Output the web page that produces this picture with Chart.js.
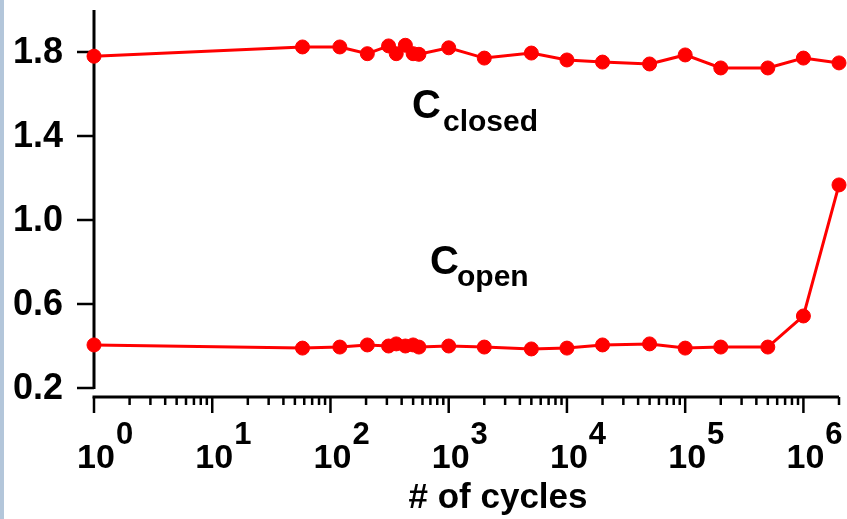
<!DOCTYPE html>
<html>
<head>
<meta charset="utf-8">
<script src="https://cdn.jsdelivr.net/npm/chart.js@4.4.0/dist/chart.umd.min.js"></script>
<style>
  html, body { margin: 0; padding: 0; background: #fff; }
  #wrap { position: relative; width: 847px; height: 519px; }
</style>
</head>
<body>
<div id="wrap"><canvas id="cyclesChart"></canvas></div>
<script>
// data
const cycles = [1, 58, 120, 205, 310, 360, 430, 500, 560, 1000, 2000, 5000, 10000, 20000, 50000, 100000, 200000, 500000, 1000000, 2000000];
const cClosed = [1.78, 1.824, 1.824, 1.792, 1.829, 1.792, 1.832, 1.792, 1.789, 1.82, 1.771, 1.795, 1.762, 1.752, 1.743, 1.786, 1.724, 1.724, 1.771, 1.748];
const cOpen = [0.405, 0.39, 0.395, 0.405, 0.40, 0.41, 0.40, 0.405, 0.395, 0.40, 0.395, 0.386, 0.39, 0.405, 0.41, 0.39, 0.395, 0.395, 0.543, 1.167];

const yTicks = [0.2, 0.6, 1.0, 1.4, 1.8];
const yTickLabels = ['0.2', '0.6', '1.0', '1.4', '1.8'];
const xDecades = [0, 1, 2, 3, 4, 5, 6];
const xMinorMults = [2, 3, 4, 5, 6, 7, 8, 9];
const xTickBase = '10';
const xTitle = '# of cycles';
const labelClosed = ['C', 'closed'];
const labelOpen = ['C', 'open'];

const FONT = '"Liberation Sans", Arial, sans-serif';

function toPoints(xs, ys) {
  return xs.map((x, i) => ({ x: x, y: ys[i] }));
}

const axesPlugin = {
  id: 'axesPlugin',
  beforeDraw(chart) {
    const ctx = chart.ctx;
    ctx.save();
    ctx.fillStyle = '#ffffff';
    ctx.fillRect(0, 0, chart.width, chart.height);
    ctx.fillStyle = '#b3c6da';
    ctx.fillRect(0, 0, 4, chart.height);
    ctx.restore();
  },
  beforeDatasetsDraw(chart) {
    const ctx = chart.ctx;
    const xs = chart.scales.x;
    const ys = chart.scales.y;
    const area = chart.chartArea;
    ctx.save();
    ctx.strokeStyle = '#000';
    ctx.fillStyle = '#000';
    ctx.lineCap = 'butt';

    // y axis
    ctx.lineWidth = 3;
    ctx.beginPath();
    ctx.moveTo(area.left, area.top);
    ctx.lineTo(area.left, ys.getPixelForValue(0.2) + 1);
    ctx.stroke();
    ctx.lineWidth = 2.5;
    ctx.font = 'bold 36px ' + FONT;
    ctx.textAlign = 'right';
    ctx.textBaseline = 'middle';
    yTicks.forEach((v, i) => {
      const py = ys.getPixelForValue(v);
      ctx.beginPath();
      ctx.moveTo(area.left - 17, py);
      ctx.lineTo(area.left, py);
      ctx.stroke();
      ctx.fillText(yTickLabels[i], area.left - 31, py + 1);
    });

    // x axis, set a little below the plot
    const axisY = area.bottom + 9;
    ctx.lineWidth = 3;
    ctx.beginPath();
    ctx.moveTo(area.left - 1.5, axisY);
    ctx.lineTo(area.right, axisY);
    ctx.stroke();
    ctx.lineWidth = 2.5;
    const maxX = xs.max;
    xDecades.forEach(d => {
      const base = Math.pow(10, d);
      const px = xs.getPixelForValue(base);
      ctx.beginPath();
      ctx.moveTo(px, axisY);
      ctx.lineTo(px, axisY + 16);
      ctx.stroke();
      xMinorMults.forEach(m => {
        const v = m * base;
        if (v > maxX * 1.0001) return;
        const mx = xs.getPixelForValue(v);
        ctx.beginPath();
        ctx.moveTo(mx, axisY);
        ctx.lineTo(mx, axisY + 8);
        ctx.stroke();
      });
      // label 10^d
      ctx.font = 'bold 34px ' + FONT;
      ctx.textAlign = 'center';
      ctx.textBaseline = 'alphabetic';
      ctx.fillText(xTickBase, px + 2, area.bottom + 80);
      const w = ctx.measureText(xTickBase).width;
      ctx.font = 'bold 31px ' + FONT;
      ctx.textAlign = 'left';
      ctx.fillText(String(d), px + 2 + w / 2 + 1, area.bottom + 56);
    });

    // x title
    ctx.font = 'bold 35px ' + FONT;
    ctx.textAlign = 'center';
    ctx.fillText(xTitle, 498, 508);
    ctx.restore();
  },
  afterDatasetsDraw(chart) {
    const ctx = chart.ctx;
    ctx.save();
    ctx.fillStyle = '#000';
    ctx.textBaseline = 'alphabetic';
    ctx.textAlign = 'left';
    ctx.font = 'bold 40px ' + FONT;
    ctx.fillText(labelClosed[0], 412, 118);
    ctx.fillText(labelOpen[0], 430, 274);
    ctx.font = 'bold 30px ' + FONT;
    ctx.fillText(labelClosed[1], 443, 131);
    ctx.fillText(labelOpen[1], 457, 286);
    ctx.restore();
  }
};

const seriesStyle = {
  showLine: true,
  borderColor: '#ff0000',
  backgroundColor: '#ff0000',
  pointBackgroundColor: '#ff0000',
  pointBorderColor: '#ff0000',
  borderWidth: 3,
  pointRadius: 7,
  pointHoverRadius: 7,
  pointBorderWidth: 1,
  tension: 0,
  clip: false
};

new Chart(document.getElementById('cyclesChart'), {
  type: 'scatter',
  data: {
    datasets: [
      Object.assign({ label: 'C closed', data: toPoints(cycles, cClosed) }, seriesStyle),
      Object.assign({ label: 'C open', data: toPoints(cycles, cOpen) }, seriesStyle)
    ]
  },
  options: {
    responsive: true,
    maintainAspectRatio: false,
    animation: false,
    layout: {
      padding: { left: 94, right: 3, top: 10, bottom: 131 }
    },
    plugins: {
      legend: { display: false },
      tooltip: { enabled: false }
    },
    scales: {
      x: { type: 'logarithmic', min: 1, max: 2000000, display: false },
      y: { type: 'linear', min: 0.2, max: 2.0, display: false }
    }
  },
  plugins: [axesPlugin]
});
</script>
</body>
</html>
